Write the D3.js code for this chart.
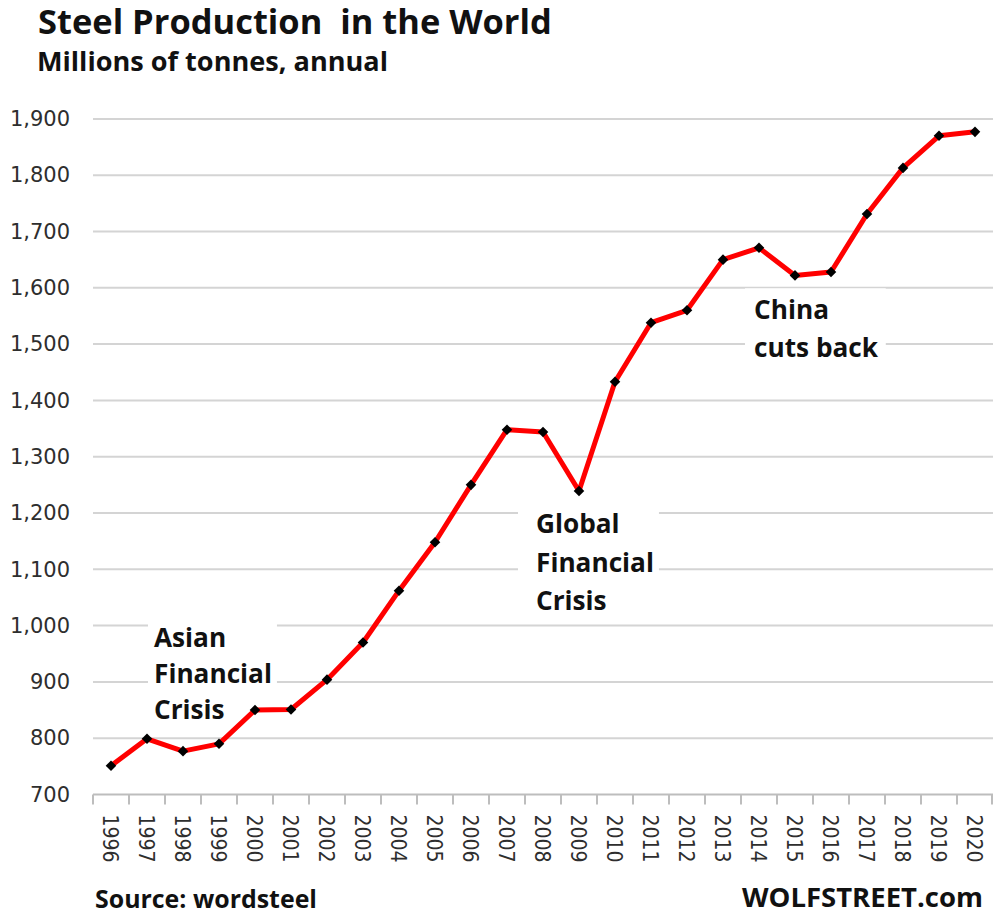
<!DOCTYPE html>
<html>
<head>
<meta charset="utf-8">
<script src="https://cdn.jsdelivr.net/npm/d3@7"></script>
<style>
  html, body { margin: 0; padding: 0; background: #fff; }
  svg { display: block; }
  text { white-space: pre; }
</style>
</head>
<body>
<svg id="chart" width="993" height="915"></svg>
<script>
// World crude steel production, millions of tonnes
const years = ["1996","1997","1998","1999","2000","2001","2002","2003","2004","2005","2006","2007","2008",
               "2009","2010","2011","2012","2013","2014","2015","2016","2017","2018","2019","2020"];
const production = [751, 799, 777, 790, 850, 851, 904, 970, 1062, 1148, 1250, 1348, 1344,
                    1239, 1433, 1538, 1560, 1650, 1671, 1622, 1628, 1731, 1813, 1870, 1877];
const yTicks = [700, 800, 900, 1000, 1100, 1200, 1300, 1400, 1500, 1600, 1700, 1800, 1900];
const annotations = [
  { lines: ["Asian", "Financial", "Crisis"] },
  { lines: ["Global", "Financial", "Crisis"] },
  { lines: ["China", "cuts back"] }
];

const svg = d3.select("#chart");
const plotLeft = 93, plotRight = 993, plotTop = 118.9, plotBottom = 794.5;

const x = d3.scaleBand().domain(years).range([plotLeft, plotRight]).padding(0);
const y = d3.scaleLinear().domain([700, 1900]).range([plotBottom, plotTop]);
const fmt = d3.format(",");
const boldFont = "'Open Sans', Lato, sans-serif";

// Scale a text element's font-size so that it spans the given width
function fitWidth(sel, target) {
  const fs = parseFloat(sel.style("font-size"));
  const w = sel.node().getComputedTextLength();
  const size = fs * target / w;
  sel.style("font-size", size.toFixed(2) + "px");
  return size;
}

// Title block
const title = svg.append("text").attr("x", 38).attr("y", 34)
  .style("font-family", boldFont).style("font-weight", 700)
  .style("font-size", "30px").attr("fill", "#111")
  .text("Steel Production  in the World");
fitWidth(title, 514);
const subtitle = svg.append("text").attr("x", 37).attr("y", 71)
  .style("font-family", boldFont).style("font-weight", 700)
  .style("font-size", "22px").attr("fill", "#111")
  .text("Millions of tonnes, annual");
fitWidth(subtitle, 351);

// Horizontal gridlines
svg.append("g").selectAll("line").data(yTicks.filter(d => d > 700)).join("line")
  .attr("x1", plotLeft).attr("x2", plotRight)
  .attr("y1", d => y(d)).attr("y2", d => y(d))
  .attr("stroke", "#d4d4d4").attr("stroke-width", 2);

// Y axis labels
const yAxis = svg.append("g").attr("transform", `translate(${plotLeft},0)`)
  .call(d3.axisLeft(y).tickValues(yTicks).tickFormat(fmt).tickSize(0).tickPadding(23));
yAxis.select(".domain").remove();
yAxis.selectAll("text")
  .style("font-family", "'DejaVu Sans', Verdana, sans-serif").style("font-size", "21px")
  .attr("fill", "#2e2e2e");

// Category axis: baseline, boundary ticks and rotated year labels
const xAxis = svg.append("g");
xAxis.append("line").attr("x1", plotLeft).attr("x2", plotRight).attr("y1", plotBottom).attr("y2", plotBottom)
  .attr("stroke", "#bdbdbd").attr("stroke-width", 2);
const bounds = years.map(d => x(d)).concat([x.range()[1] - 1]);
xAxis.selectAll("line.tick").data(bounds).join("line").attr("class", "tick")
  .attr("x1", d => d).attr("x2", d => d).attr("y1", plotBottom).attr("y2", plotBottom + 10)
  .attr("stroke", "#bdbdbd").attr("stroke-width", 2);
xAxis.selectAll("text").data(years).join("text")
  .attr("transform", d => `translate(${x(d) + x.bandwidth() / 2 - 8},${plotBottom + 20}) rotate(90)`)
  .attr("text-anchor", "start")
  .style("font-family", "'DejaVu Sans Condensed', 'DejaVu Sans', sans-serif")
  .style("font-stretch", "condensed").style("font-size", "21px")
  .attr("fill", "#2e2e2e")
  .text(d => d);

// Annotation size: the word "Financial" spans 118px
const probe = svg.append("text").style("font-family", boldFont).style("font-weight", 700)
  .style("font-size", "24px").text("Financial");
const annoSize = fitWidth(probe, 118);
probe.remove();

// Annotations with white backing boxes
const anchorPos = [[154, 646.7], [536, 533.3], [754, 319.3]];
const lineHeights = [36.3, 38.4, 37.4];
const boxPad = [[6, 5], [18, 5], [9, 7]];
annotations.forEach((a, i) => {
  const g = svg.append("g");
  const rect = g.append("rect").attr("fill", "#fff");
  const t = g.append("text")
    .style("font-family", boldFont).style("font-weight", 700).style("font-size", annoSize + "px")
    .attr("fill", "#111");
  t.selectAll("tspan").data(a.lines).join("tspan")
    .attr("x", anchorPos[i][0]).attr("y", (d, k) => anchorPos[i][1] + k * lineHeights[i])
    .text(d => d);
  const bb = t.node().getBBox();
  rect.attr("x", bb.x - boxPad[i][0]).attr("y", bb.y - 3)
    .attr("width", bb.width + boxPad[i][0] + boxPad[i][1]).attr("height", bb.height + 6);
});

// Production line and markers
const line = d3.line().x((d, i) => x(years[i]) + x.bandwidth() / 2).y(d => y(d));
svg.append("path").datum(production)
  .attr("d", line).attr("fill", "none")
  .attr("stroke", "#ff0000").attr("stroke-width", 5).attr("stroke-linejoin", "round");
svg.append("g").selectAll("path").data(production).join("path")
  .attr("d", d3.symbol(d3.symbolSquare, 56)())
  .attr("transform", (d, i) => `translate(${x(years[i]) + x.bandwidth() / 2},${y(d)}) rotate(45)`)
  .attr("fill", "#000");

// Footer
const src = svg.append("text").attr("x", 95).attr("y", 908)
  .style("font-family", boldFont).style("font-weight", 700).style("font-size", "24px")
  .attr("fill", "#111").text("Source: wordsteel");
fitWidth(src, 222);
const brand = svg.append("text").attr("x", 742).attr("y", 906.7)
  .style("font-family", boldFont).style("font-weight", 700).style("font-size", "24px")
  .attr("fill", "#111").text("WOLFSTREET.com");
fitWidth(brand, 241);
</script>
</body>
</html>
